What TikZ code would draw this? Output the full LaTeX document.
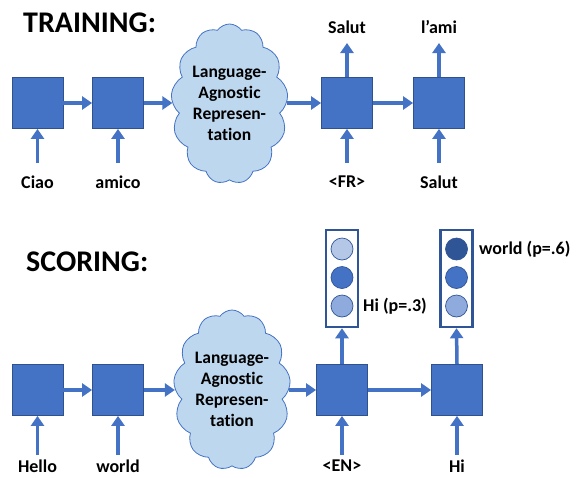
\documentclass[tikz,border=0pt]{standalone}
\usepackage{fontspec}
\setmainfont[Ligatures={NoCommon,NoContextual}]{Carlito}
\usetikzlibrary{arrows.meta,shapes.symbols}
\definecolor{boxblue}{HTML}{4472C4}
\definecolor{boxedge}{HTML}{2F528F}
\definecolor{cloudfill}{HTML}{BDD7EE}
\definecolor{darkdot}{HTML}{2F5597}
\definecolor{lightdot}{HTML}{B4C7E7}
\definecolor{middot}{HTML}{8FAADC}
\begin{document}
\begin{tikzpicture}[x=1pt,y=-1pt,
  cell/.style={draw=boxedge, fill=boxblue, line width=0.8pt, minimum size=51pt, inner sep=0pt},
  flow/.style={draw=boxblue, line width=3.5pt, -{Triangle[length=10pt,width=13pt]}},
  word/.style={font=\fontsize{18}{20}\selectfont\bfseries, inner sep=0pt},
  heading/.style={font=\fontsize{30}{34}\selectfont\bfseries, inner sep=0pt, anchor=west},
  thought/.style={cloud, cloud puffs=13, cloud puff arc=110, aspect=0.72, draw=boxblue, line width=0.8pt,
     fill=cloudfill, minimum width=117pt, minimum height=160pt, inner sep=0pt},
  cloudtext/.style={font=\fontsize{17.5}{21}\selectfont\bfseries, align=center, inner sep=0pt},
  vecbox/.style={draw=darkdot, line width=2.5pt, fill=white, minimum width=32pt, minimum height=97pt, inner sep=0pt},
  dot/.style={circle, draw=darkdot, line width=0.7pt, minimum size=22pt, inner sep=0pt}
]
\useasboundingbox (0,0) rectangle (578,477);

% ---------------- TRAINING ----------------
\node[heading] (train) at (23,22.5) {TRAINING:};

\node[cell] (b1) at (37.5,103) {};
\node[cell] (b2) at (118,103) {};
\node[thought] (cl1) at (229.5,104) {};
\node[cloudtext] (cl1t) at (229.5,103) {Language-\\Agnostic\\Represen-\\tation};
\node[cell] (b3) at (347,103) {};
\node[cell] (b4) at (439,103) {};

\draw[flow] (b1.east) -- (b2.west);
\draw[flow] (b2.east) -- (b2.east -| cl1.west);
\draw[flow] (b3.west -| cl1.east) -- (b3.west);
\draw[flow] (b3.east) -- (b4.west);

\coordinate (i1) at (37.5,163);
\coordinate (i2) at (118,163);
\coordinate (i3) at (347,163);
\coordinate (i4) at (439,163);
\draw[flow] (i1) -- (b1.south);
\draw[flow] (i2) -- (b2.south);
\draw[flow] (i3) -- (b3.south);
\draw[flow] (i4) -- (b4.south);

\node[word] (w1) at (37.5,182) {Ciao};
\node[word] (w2) at (118,182) {amico};
\node[word] (w3) at (347,182) {<FR>};
\node[word] (w4) at (439,182) {Salut};

\coordinate (o3) at (347,43);
\coordinate (o4) at (439,43);
\draw[flow] (b3.north) -- (o3);
\draw[flow] (b4.north) -- (o4);
\node[word] (y3) at (347,27) {Salut};
\node[word] (y4) at (439,27) {l’ami};

% ---------------- SCORING ----------------
\node[heading] (score) at (26,262) {SCORING:};

\node[cell] (c1) at (37.5,390) {};
\node[cell] (c2) at (118,390) {};
\node[thought] (cl2) at (232,390) {};
\node[cloudtext] (cl2t) at (232,389) {Language-\\Agnostic\\Represen-\\tation};
\node[cell] (c3) at (342,390) {};
\node[cell] (c4) at (457,390) {};

\draw[flow] (c1.east) -- (c2.west);
\draw[flow] (c2.east) -- (c2.east -| cl2.west);
\draw[flow] (c3.west -| cl2.east) -- (c3.west);
\draw[flow] (c3.east) -- (c4.west);

\coordinate (j1) at (37.5,455);
\coordinate (j2) at (118,455);
\coordinate (j3) at (342,455);
\coordinate (j4) at (457,455);
\draw[flow] (j1) -- (c1.south);
\draw[flow] (j2) -- (c2.south);
\draw[flow] (j3) -- (c3.south);
\draw[flow] (j4) -- (c4.south);

\node[word] (x1) at (37.5,466) {Hello};
\node[word] (x2) at (118,466) {world};
\node[word] (x3) at (342,466) {<EN>};
\node[word] (x4) at (457,466) {Hi};

\node[vecbox] (va) at (342,278.5) {};
\node[vecbox] (vb) at (456.5,278.5) {};
\draw[flow] (c3.north) -- (va.south);
\draw[flow] (c4.north) -- (vb.south);

\node[dot, fill=lightdot] (a1) at (342,249) {};
\node[dot, fill=boxblue] (a2) at (342,277.5) {};
\node[dot, fill=middot] (a3) at (342,306) {};
\node[dot, fill=darkdot] (d1) at (456.5,249) {};
\node[dot, fill=boxblue] (d2) at (456.5,277.5) {};
\node[dot, fill=middot] (d3) at (456.5,306) {};

\node[word, anchor=west] (pa) at (363,306) {Hi (p=.3)};
\node[word, anchor=west] (pb) at (479,249) {world (p=.6)};
\end{tikzpicture}
\end{document}
